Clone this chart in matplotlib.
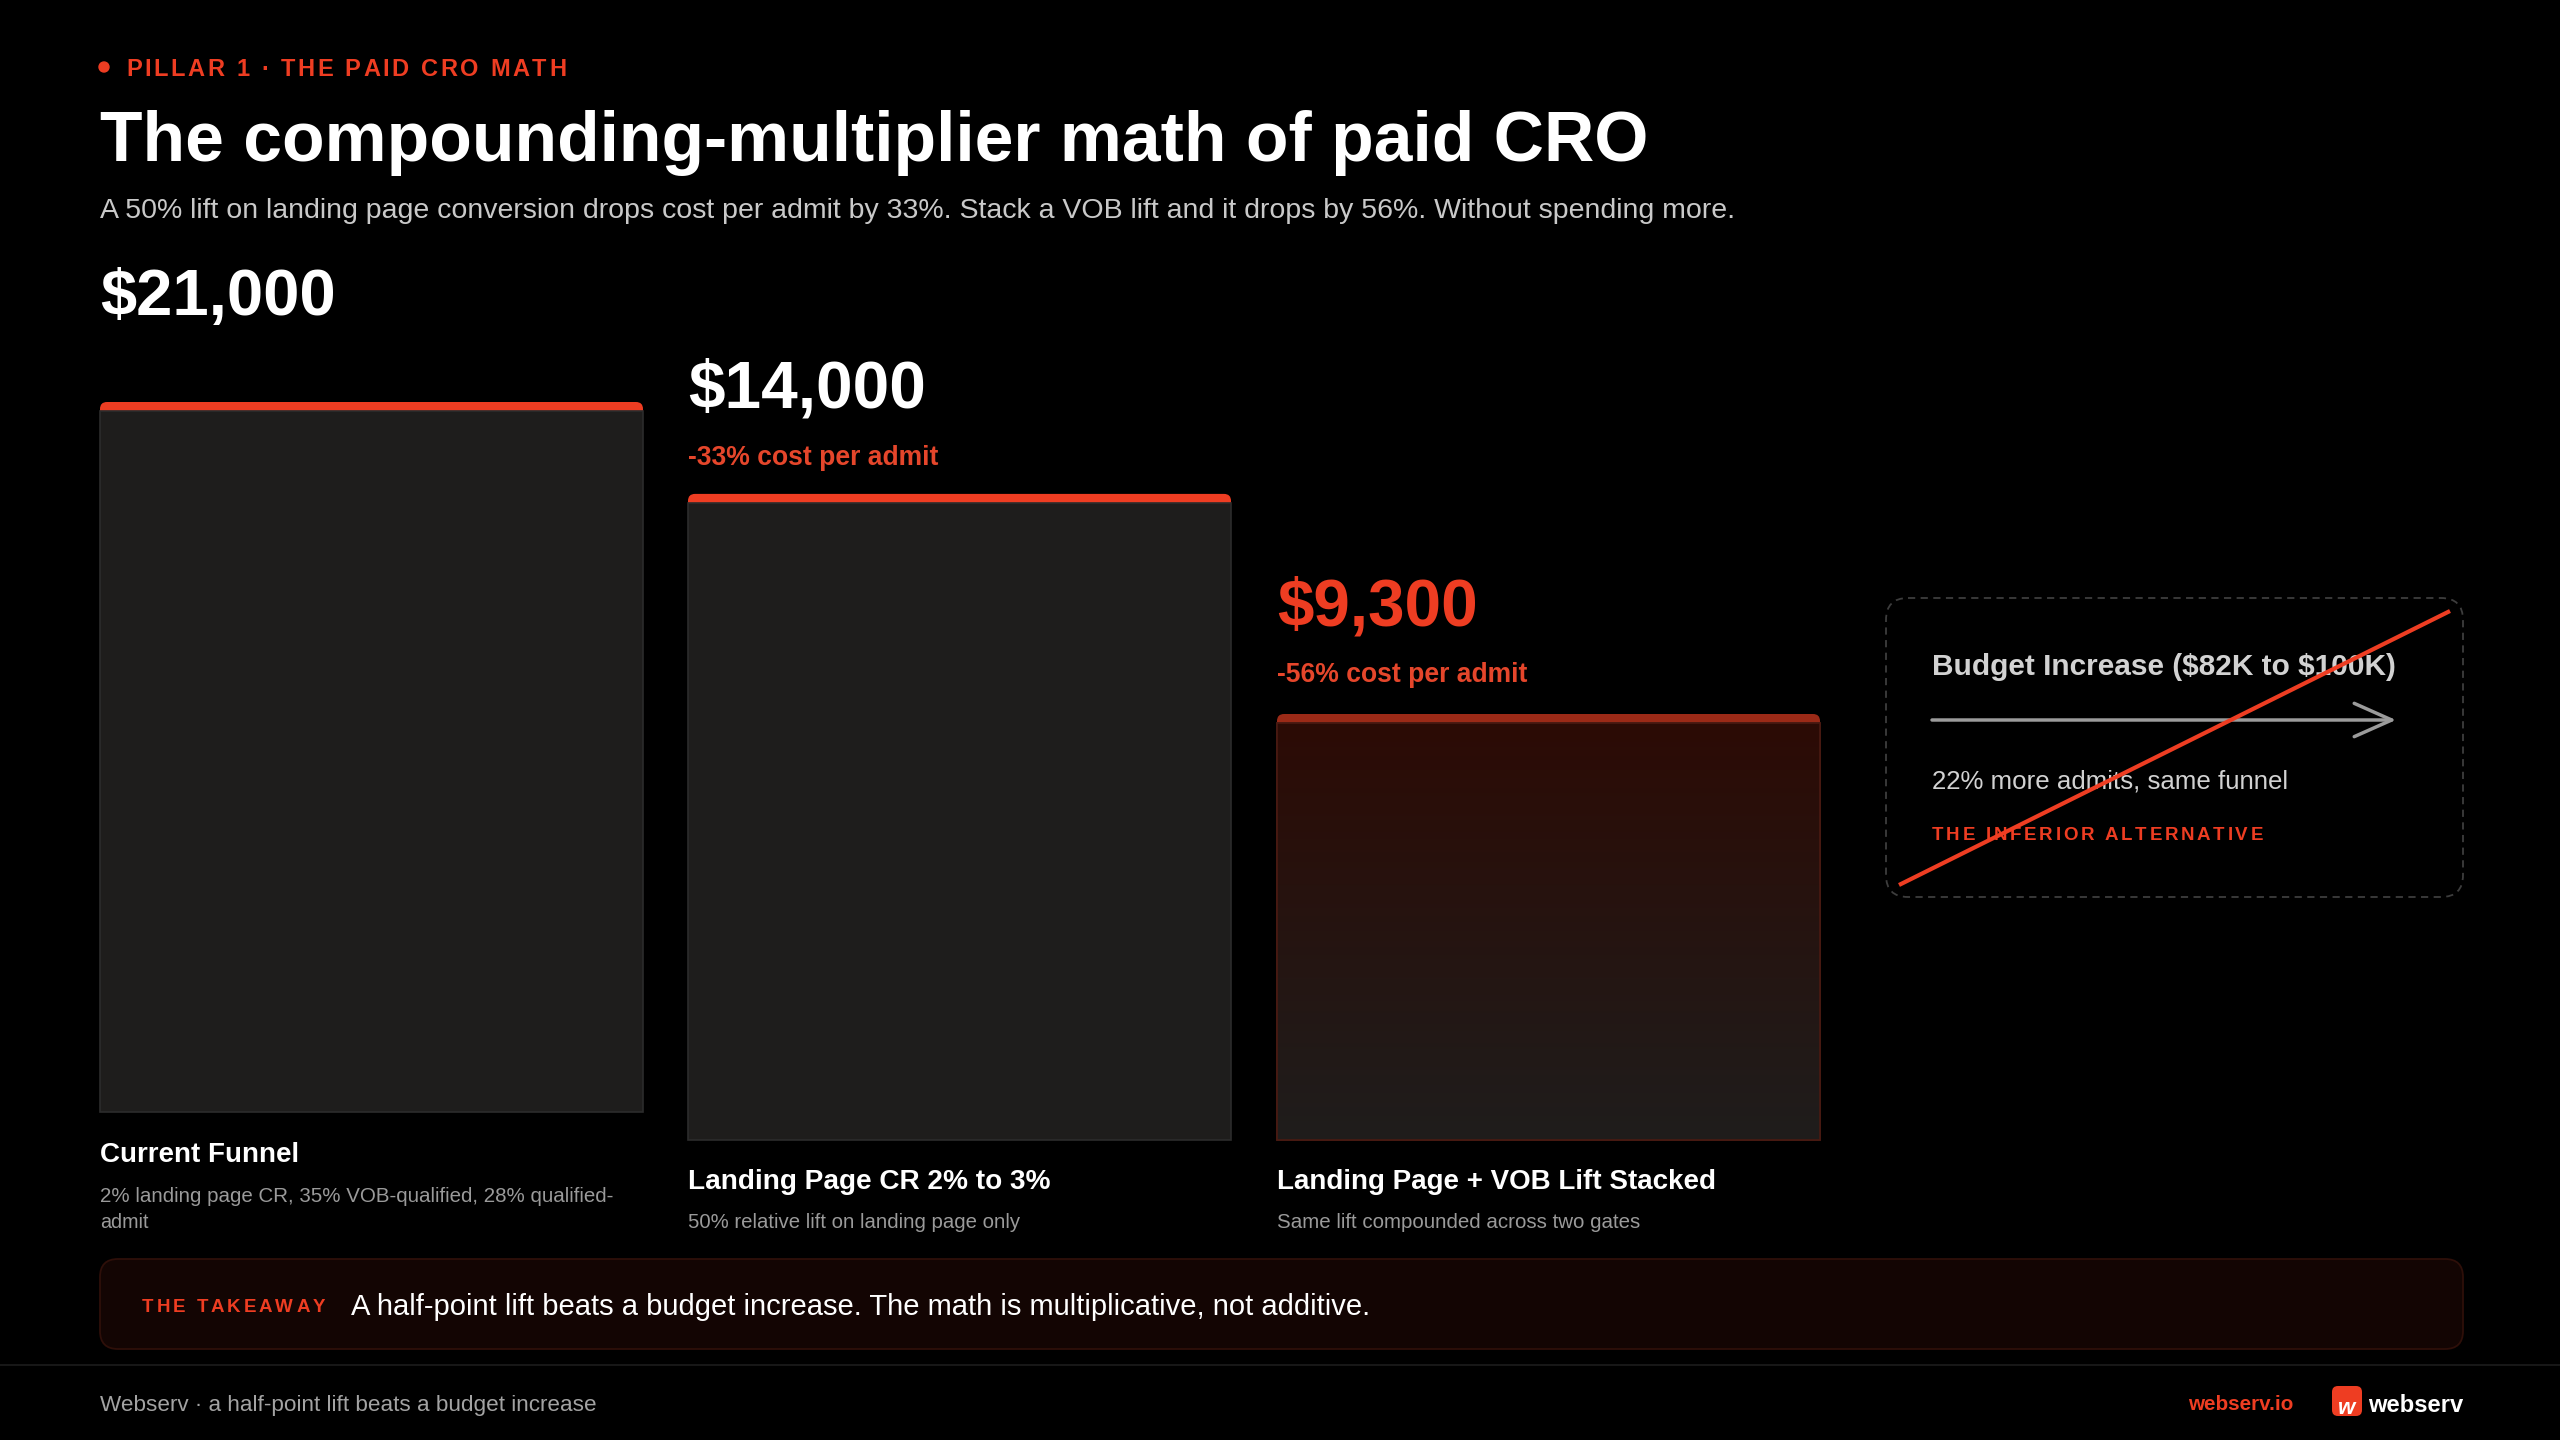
import numpy as np
import matplotlib
matplotlib.use('Agg')
from matplotlib import pyplot as plt
from matplotlib.patches import FancyBboxPatch, Circle, Rectangle
from matplotlib.colors import to_rgb

FONT = 'Liberation Sans'
plt.rcParams['font.family'] = [FONT, 'DejaVu Sans']

# ---- data ----
costs = [21000, 14000, 9300]
cost_labels = ['$21,000', '$14,000', '$9,300']
deltas = ['', '-33% cost per admit', '-56% cost per admit']
bar_height_pct = [100, 91, 60]
titles = ['Current Funnel', 'Landing Page CR 2% to 3%', 'Landing Page + VOB Lift Stacked']
notes = ['2% landing page CR, 35% VOB-qualified, 28% qualified-\nadmit',
         '50% relative lift on landing page only',
         'Same lift compounded across two gates']

RED = '#ee3d22'
RED2 = '#e5462b'
BG = '#000000'

fig = plt.figure(figsize=(25.6, 14.4), dpi=100, facecolor=BG)
ax = fig.add_axes([0, 0, 1, 1])
ax.set_facecolor(BG)
ax.axis('off')
renderer = fig.canvas.get_renderer()


def put(x, y, s, width=None, size=20, color='white', weight='normal', ha='left', va='center', **kw):
    t = ax.text(x, y + 4, s, fontsize=size, color=color, fontweight=weight, ha=ha, va=va,
                parse_math=False, **kw)
    if width:
        bb = t.get_window_extent(renderer)
        t.set_fontsize(size * width / bb.width)
    return t


def spaced(x, y, s, width, size, color, weight='bold'):
    # letter-spaced caps: place each char, spread the slack evenly
    ws = []
    for ch in s:
        if ch == ' ':
            ws.append(size * 1.389 * 0.28)
            continue
        t = ax.text(0, 0, ch, fontsize=size, fontweight=weight)
        ws.append(t.get_window_extent(renderer).width)
        t.remove()
    gap = (width - sum(ws)) / (len(s) - 1)
    cx = x
    for ch, w in zip(s, ws):
        if ch != ' ':
            ax.text(cx, y + 3, ch, fontsize=size, color=color, fontweight=weight, ha='left', va='center')
        cx += w + gap


ax.set_xlim(0, 2560)
ax.set_ylim(1440, 0)

# ---- header ----
ax.add_patch(Circle((104, 67), 5, color=RED))
spaced(126, 67, 'PILLAR 1 · THE PAID CRO MATH', 440, 17, RED)
put(100, 139, 'The compounding-multiplier math of paid CRO', width=1549, size=50, weight='bold')
put(100, 207, 'A 50% lift on landing page conversion drops cost per admit by 33%. Stack a VOB lift '
    'and it drops by 56%. Without spending more.', width=1633, size=20, color='#c9c9c9')

# ---- bars ----
lefts = [100, 688, 1277]
bottoms = [1112, 1140, 1140]
bw = 543
max_h = 710
heights = [p / 100 * max_h for p in bar_height_pct]
tops = [b - h for b, h in zip(bottoms, heights)]
strip_h = 9

for i in range(3):
    is_last = i == 2
    strip = '#9b2a17' if is_last else RED
    edge = '#4a1a12' if is_last else '#2c2c2c'
    ax.add_patch(FancyBboxPatch((lefts[i], tops[i]), bw, strip_h + 8,
                                boxstyle='round,pad=0,rounding_size=7', fc=strip, ec='none', zorder=2))
    body = ax.bar(lefts[i], -(heights[i] - strip_h), bottom=bottoms[i], width=bw, align='edge',
                  color='#1e1d1c', edgecolor=edge, linewidth=1.2, zorder=3)[0]
    if is_last:
        c1 = np.array(to_rgb('#2c0b05'))
        c2 = np.array(to_rgb('#1f1d1c'))
        g = np.linspace(0, 1, 256)[:, None, None]
        img = c1 * (1 - g) + c2 * g
        im = ax.imshow(img, extent=(lefts[i], lefts[i] + bw, bottoms[i], tops[i] + strip_h),
                       aspect='auto', origin='upper', zorder=3.5, interpolation='bilinear')
        im.set_clip_path(body)
        ax.add_patch(Rectangle((lefts[i], tops[i] + strip_h), bw, heights[i] - strip_h, fc='none',
                               ec=edge, lw=1.2, zorder=4))

value_y = [294, 387, 604]
delta_y = [None, 454, 671]
value_w = [236, 238, 201]
for i in range(3):
    put(lefts[i], value_y[i], cost_labels[i], width=value_w[i], size=45, weight='bold',
        color=RED if i == 2 else 'white')
    if deltas[i]:
        put(lefts[i], delta_y[i], deltas[i], width=251, size=18, weight='bold', color=RED2)

title_y = [1151, 1178, 1178]
title_w = [199, 362, 439]
for i in range(3):
    put(lefts[i], title_y[i], titles[i], width=title_w[i], size=20, weight='bold')

put(100, 1192, notes[0].split('\n')[0], width=519, size=14, color='#9a9a9a')
put(100, 1219, notes[0].split('\n')[1], size=14.2, color='#9a9a9a')
put(688, 1218, notes[1], width=334, size=14, color='#9a9a9a')
put(1277, 1218, notes[2], width=367, size=14, color='#9a9a9a')

# ---- alternative card ----
ax.add_patch(FancyBboxPatch((1886, 598), 577, 299, boxstyle='round,pad=0,rounding_size=22',
                            fc='none', ec='#3d3d3d', lw=1.3, ls=(0, (4, 3))))
put(1932, 663, 'Budget Increase ($82K to $100K)', width=465, size=22, weight='bold', color='#d2d2d2')
ax.annotate('', xy=(2396, 720), xytext=(1932, 720),
            arrowprops=dict(arrowstyle='->,head_length=0.9,head_width=0.4', color='#9b9b9b',
                            lw=2.5, mutation_scale=30, shrinkA=0, shrinkB=0))
put(1932, 777, '22% more admits, same funnel', width=356, size=18, color='#d2d2d2')
spaced(1932, 833, 'THE INFERIOR ALTERNATIVE', 331, 13.5, RED)
ax.plot([1899, 2450], [885, 611], color=RED, lw=3, solid_capstyle='butt', zorder=6)

# ---- takeaway ----
ax.add_patch(FancyBboxPatch((100, 1259), 2363, 90, boxstyle='round,pad=0,rounding_size=18',
                            fc='#130503', ec='#2e0f09', lw=1.3))
spaced(142, 1304, 'THE TAKEAWAY', 183, 13.5, RED)
put(351, 1303, 'A half-point lift beats a budget increase. The math is multiplicative, not additive.',
    width=1017, size=20, color='white')

# ---- footer ----
ax.plot([0, 2560], [1365, 1365], color='#171717', lw=1.5)
put(100, 1401, 'Webserv · a half-point lift beats a budget increase', width=498, size=14, color='#a3a3a3')
put(2188, 1401, 'webserv.io', width=105, size=14, weight='bold', color=RED)
ax.add_patch(FancyBboxPatch((2332, 1386), 30, 30, boxstyle='round,pad=0,rounding_size=6', fc=RED, ec='none'))
put(2347, 1404, 'w', size=16, weight='bold', color='white', ha='center', style='italic')
put(2368, 1401, 'webserv', width=95, size=16, weight='bold', color='white')

fig.savefig('out.png', dpi=100, facecolor=BG)
